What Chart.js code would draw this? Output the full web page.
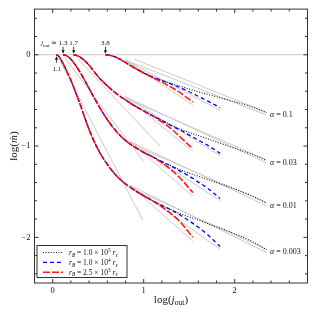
<!DOCTYPE html>
<html>
<head>
<meta charset="utf-8">
<script src="https://cdn.jsdelivr.net/npm/chart.js@4.4.1/dist/chart.umd.min.js"></script>
<style>
html, body { margin: 0; padding: 0; background: #fff; }
canvas { display: block; }
</style>
</head>
<body>
<canvas id="chart" width="317" height="317"></canvas>
<script>
// values: [log(j_out), log(mdot)]
const alphaLabels = ['0.1', '0.03', '0.01', '0.003'];

// alpha = 0.1
const shared_a0_1 = [[0.58, 0], [0.62, -0.005], [0.66, -0.015], [0.7, -0.03], [0.75, -0.055], [0.8, -0.085], [0.9, -0.145], [1.0, -0.2]];
const black_a0_1 = [[1.1, -0.245], [1.2, -0.28], [1.3, -0.315], [1.4, -0.345], [1.5, -0.375], [1.6, -0.405], [1.8, -0.46], [2.0, -0.515], [2.2, -0.575], [2.35, -0.635]];
const blue_a0_1 = [[1.1, -0.245], [1.2, -0.28], [1.3, -0.32], [1.4, -0.36], [1.5, -0.405], [1.6, -0.455], [1.7, -0.505], [1.84, -0.58]];
const red_a0_1 = [[1.1, -0.25], [1.2, -0.3], [1.3, -0.355], [1.4, -0.415], [1.54, -0.52]];

// alpha = 0.03
const shared_a0_03 = [[0.23, 0], [0.27, -0.01], [0.3, -0.025], [0.35, -0.065], [0.4, -0.115], [0.5, -0.24], [0.6, -0.34], [0.7, -0.425], [0.8, -0.495], [0.9, -0.56], [1.0, -0.615], [1.1, -0.67]];
const black_a0_03 = [[1.2, -0.72], [1.3, -0.77], [1.4, -0.815], [1.6, -0.885], [1.8, -0.955], [2.0, -1.025], [2.2, -1.095], [2.35, -1.16]];
const blue_a0_03 = [[1.2, -0.72], [1.3, -0.775], [1.4, -0.825], [1.5, -0.88], [1.6, -0.935], [1.7, -0.99], [1.84, -1.08]];
const red_a0_03 = [[1.2, -0.735], [1.3, -0.81], [1.4, -0.9], [1.54, -1.03]];

// alpha = 0.01
const shared_a0_01 = [[0.114, 0], [0.15, -0.01], [0.2, -0.05], [0.3, -0.19], [0.4, -0.37], [0.5, -0.55], [0.6, -0.71], [0.7, -0.84], [0.8, -0.94], [0.9, -1.01], [1.0, -1.07], [1.1, -1.12]];
const black_a0_01 = [[1.2, -1.17], [1.3, -1.215], [1.4, -1.26], [1.6, -1.33], [1.8, -1.4], [2.0, -1.47], [2.2, -1.55], [2.35, -1.625]];
const blue_a0_01 = [[1.2, -1.17], [1.3, -1.22], [1.4, -1.275], [1.5, -1.33], [1.6, -1.395], [1.7, -1.46], [1.84, -1.575]];
const red_a0_01 = [[1.2, -1.185], [1.3, -1.26], [1.4, -1.35], [1.54, -1.51]];

// alpha = 0.003
const shared_a0_003 = [[0.041, 0], [0.07, -0.02], [0.1, -0.07], [0.15, -0.17], [0.2, -0.28], [0.3, -0.54], [0.4, -0.82], [0.5, -1.04], [0.6, -1.2], [0.7, -1.325], [0.8, -1.415], [0.9, -1.485], [1.0, -1.545], [1.1, -1.6]];
const black_a0_003 = [[1.2, -1.65], [1.3, -1.695], [1.4, -1.74], [1.6, -1.81], [1.8, -1.885], [2.0, -1.96], [2.2, -2.05], [2.35, -2.135]];
const blue_a0_003 = [[1.2, -1.65], [1.3, -1.7], [1.4, -1.755], [1.5, -1.82], [1.6, -1.89], [1.7, -1.97], [1.84, -2.1]];
const red_a0_003 = [[1.2, -1.665], [1.3, -1.74], [1.4, -1.83], [1.54, -2.0]];

// grey reference lines (straight segments)
const zeroLine = [[-0.2, 0], [2.8, 0]];
const steepLines = [
  [[0.06, -0.03], [0.99, -1.81]],
  [[0.13, -0.03], [1.0, -1.17]],
  [[0.28, -0.05], [1.18, -1.0]],
];
const fanLines = [
  [[0.8, -0.06], [1.54, -0.55]], [[0.8, -0.06], [1.84, -0.61]], [[0.8, -0.06], [2.35, -0.66]], [[0.9, -0.05], [2.35, -0.63]],
  [[0.8, -0.46], [1.54, -1.06]], [[0.8, -0.46], [1.84, -1.105]], [[0.8, -0.46], [2.35, -1.185]], [[0.9, -0.52], [2.35, -1.15]],
  [[0.85, -0.95], [1.54, -1.55]], [[0.85, -0.95], [1.84, -1.6]], [[0.85, -0.95], [2.35, -1.655]], [[0.95, -1.02], [2.35, -1.62]],
  [[0.85, -1.43], [1.54, -2.04]], [[0.85, -1.43], [1.84, -2.13]], [[0.85, -1.43], [2.35, -2.165]], [[0.95, -1.5], [2.35, -2.13]],
];

const xTicks = [0, 1, 2];
const yTicks = [-2, -1, 0];

const legendMantissa = ['1.0', '1.0', '2.5'];
const legendExponent = ['5', '4', '3'];

const topArrowJ = [1.3, 1.7, 3.8];
const topArrowText = ['1.3', '1.7', '3.8'];
const bottomArrowJ = 1.1;

const groups = [
  { shared: shared_a0_1, black: black_a0_1, blue: blue_a0_1, red: red_a0_1 },
  { shared: shared_a0_03, black: black_a0_03, blue: blue_a0_03, red: red_a0_03 },
  { shared: shared_a0_01, black: black_a0_01, blue: blue_a0_01, red: red_a0_01 },
  { shared: shared_a0_003, black: black_a0_003, blue: blue_a0_003, red: red_a0_003 },
];

const styles = {
  black: { borderColor: '#111', borderWidth: 1.1, borderDash: [1, 1.6], order: 2 },
  blue: { borderColor: '#0000ff', borderWidth: 1.3, borderDash: [4, 3], order: 1 },
  red: { borderColor: 'rgba(255,0,0,0.9)', borderWidth: 1.6, borderDash: [7, 2], order: 0 },
};
const GREY = '#c9c9c9';
const SERIF = '"Liberation Serif", "DejaVu Serif", serif';

function pts(arr) {
  return arr.map((p) => ({ x: p[0], y: p[1] }));
}

const datasets = [];
[zeroLine].concat(steepLines, fanLines).forEach((seg) => {
  datasets.push({ data: pts(seg), borderColor: GREY, borderWidth: 1, order: 3, tension: 0 });
});
groups.forEach((g) => {
  ['black', 'blue', 'red'].forEach((k) => {
    datasets.push(Object.assign({
      data: pts(g.shared.concat(g[k])),
      cubicInterpolationMode: 'monotone',
    }, styles[k]));
  });
});
datasets.forEach((d) => {
  d.showLine = true;
  d.pointRadius = 0;
  d.fill = false;
});

function font(size, italic) {
  return (italic ? 'italic ' : '') + size + 'px ' + SERIF;
}

// text with sub/superscripts: parts = [{t, it, sub, sup}]
function drawRich(ctx, parts, x, y, size, align) {
  let w = 0;
  parts.forEach((p) => {
    ctx.font = font(p.sub || p.sup ? size * 0.7 : size, p.it);
    w += ctx.measureText(p.t).width;
  });
  let cx = align === 'center' ? x - w / 2 : align === 'right' ? x - w : x;
  ctx.textAlign = 'left';
  ctx.textBaseline = 'alphabetic';
  parts.forEach((p) => {
    const s = p.sub || p.sup ? size * 0.7 : size;
    ctx.font = font(s, p.it);
    const dy = p.sub ? size * 0.22 : p.sup ? -size * 0.4 : 0;
    ctx.fillText(p.t, cx, y + dy);
    cx += ctx.measureText(p.t).width;
  });
  return w;
}

function arrow(ctx, x, yFrom, yTip) {
  const dir = yTip > yFrom ? 1 : -1;
  ctx.beginPath();
  ctx.moveTo(x, yFrom);
  ctx.lineTo(x, yTip - dir * 2.5);
  ctx.stroke();
  ctx.beginPath();
  ctx.moveTo(x, yTip);
  ctx.lineTo(x - 1.6, yTip - dir * 3.6);
  ctx.lineTo(x + 1.6, yTip - dir * 3.6);
  ctx.closePath();
  ctx.fill();
}

function tickLabel(v) {
  const r = Math.round(v);
  if (Math.abs(v - r) > 1e-6) return '';
  return r < 0 ? '\u2212' + (-r) : String(r);
}

const notes = {
  id: 'notes',
  afterDraw(chart) {
    const ctx = chart.ctx;
    const a = chart.chartArea;
    const xs = chart.scales.x;
    const ys = chart.scales.y;
    ctx.save();

    // frame and inward ticks
    ctx.strokeStyle = '#333';
    ctx.lineWidth = 1;
    ctx.strokeRect(a.left, a.top, a.right - a.left, a.bottom - a.top);
    ctx.beginPath();
    for (let k = -1; k <= 14; k++) {
      const px = xs.getPixelForValue(k * 0.2);
      const len = k % 5 === 0 ? 4 : 2.5;
      ctx.moveTo(px, a.bottom); ctx.lineTo(px, a.bottom - len);
      ctx.moveTo(px, a.top); ctx.lineTo(px, a.top + len);
    }
    for (let k = -12; k <= 2; k++) {
      const py = ys.getPixelForValue(k * 0.2);
      const len = k % 5 === 0 ? 4 : 2.5;
      ctx.moveTo(a.left, py); ctx.lineTo(a.left + len, py);
      ctx.moveTo(a.right, py); ctx.lineTo(a.right - len, py);
    }
    ctx.stroke();

    ctx.fillStyle = '#111';
    ctx.strokeStyle = '#111';

    // axis titles
    drawRich(ctx, [{ t: 'log(' }, { t: 'j', it: true }, { t: 'out', sub: true }, { t: ')' }],
      (a.left + a.right) / 2, 303, 11, 'center');
    ctx.save();
    ctx.translate(17, (a.top + a.bottom) / 2);
    ctx.rotate(-Math.PI / 2);
    drawRich(ctx, [{ t: 'log(' }, { t: '\u1E41', it: true }, { t: ')' }], 0, 0, 11, 'center');
    ctx.restore();

    // alpha labels next to the end of the dotted curves
    groups.forEach((g, i) => {
      const end = g.black[g.black.length - 1];
      const px = xs.getPixelForValue(end[0]) + 3.5;
      const py = ys.getPixelForValue(end[1]) + 4.5;
      drawRich(ctx, [{ t: '\u03B1', it: true }, { t: ' = ' + alphaLabels[i] }], px, py, 8, 'left');
    });

    // arrows marking the starting points
    const y0 = ys.getPixelForValue(0);
    ctx.lineWidth = 0.8;
    topArrowJ.forEach((j, i) => {
      const px = xs.getPixelForValue(Math.log10(j));
      arrow(ctx, px, y0 - 8, y0 - 1);
      drawRich(ctx, [{ t: topArrowText[i] }], px, y0 - 9.5, 7, 'center');
      if (i === 0) {
        ctx.font = font(7);
        const w = ctx.measureText(topArrowText[i]).width;
        drawRich(ctx, [{ t: 'j', it: true }, { t: 'out', sub: true }, { t: ' \u2243 ' }], px - w / 2, y0 - 9.5, 7, 'right');
      }
    });
    const pb = xs.getPixelForValue(Math.log10(bottomArrowJ));
    arrow(ctx, pb, y0 + 8, y0 + 1.5);
    drawRich(ctx, [{ t: '1.1' }], pb + 0.5, y0 + 16, 7, 'center');

    // legend
    const bx = a.left + 2.5, by = a.bottom - 37.5, bw = 90, bh = 32;
    ctx.fillStyle = '#fff';
    ctx.fillRect(bx, by, bw, bh);
    ctx.strokeStyle = '#333';
    ctx.lineWidth = 1;
    ctx.strokeRect(bx, by, bw, bh);
    ['black', 'blue', 'red'].forEach((k, i) => {
      const ry = by + 7 + i * 9.9;
      ctx.strokeStyle = styles[k].borderColor;
      ctx.lineWidth = styles[k].borderWidth;
      ctx.setLineDash(styles[k].borderDash);
      ctx.beginPath();
      ctx.moveTo(bx + 6, ry);
      ctx.lineTo(bx + 26, ry);
      ctx.stroke();
      ctx.setLineDash([]);
      ctx.fillStyle = '#111';
      drawRich(ctx, [
        { t: 'r', it: true }, { t: 'B', it: true, sub: true },
        { t: ' = ' + legendMantissa[i] + ' \u00D7 10' }, { t: legendExponent[i], sup: true },
        { t: ' r', it: true }, { t: 's', it: true, sub: true },
      ], bx + 32, ry + 2.5, 7.5, 'left');
    });

    ctx.restore();
  },
};

new Chart(document.getElementById('chart'), {
  type: 'scatter',
  data: { datasets },
  options: {
    responsive: false,
    animation: false,
    layout: { padding: { left: 0, right: 9.5, top: 7.5, bottom: 0 } },
    plugins: { legend: { display: false }, tooltip: { enabled: false } },
    scales: {
      x: {
        type: 'linear', min: -0.2, max: 2.8,
        grid: { display: false, drawTicks: false },
        border: { display: false },
        afterBuildTicks: (s) => { s.ticks = xTicks.map((v) => ({ value: v })); },
        afterFit: (s) => { s.height = 34; },
        ticks: { autoSkip: false, maxRotation: 0, padding: 3, color: '#111', font: { family: SERIF, size: 8.5 }, callback: tickLabel },
      },
      y: {
        type: 'linear', min: -2.5, max: 0.5,
        grid: { display: false, drawTicks: false },
        border: { display: false },
        afterBuildTicks: (s) => { s.ticks = yTicks.map((v) => ({ value: v })); },
        afterFit: (s) => { s.width = 34.5; },
        ticks: { autoSkip: false, padding: 4, color: '#111', font: { family: SERIF, size: 8.5 }, callback: tickLabel },
      },
    },
  },
  plugins: [notes],
});
</script>
</body>
</html>
